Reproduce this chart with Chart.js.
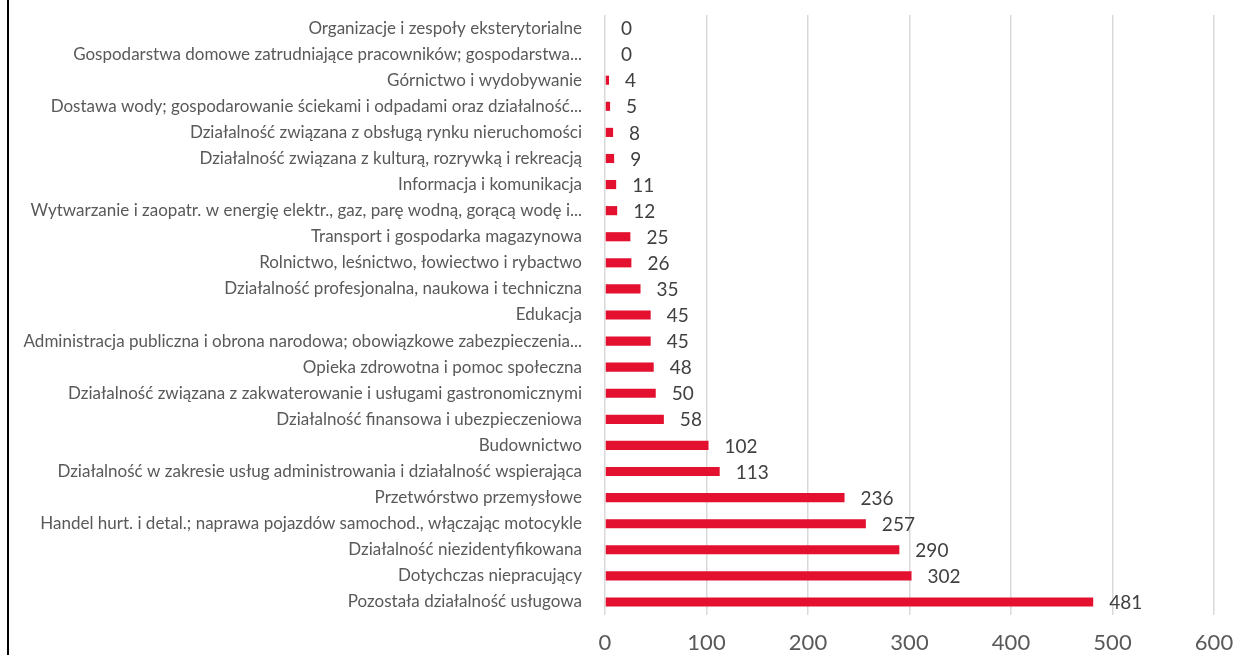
<!DOCTYPE html>
<html lang="pl">
<head>
<meta charset="utf-8">
<title>Liczba bezrobotnych wg sekcji PKD</title>
<script src="https://cdn.jsdelivr.net/npm/chart.js@4.4.1/dist/chart.umd.min.js"></script>
<style>
  html, body { margin: 0; padding: 0; background: #ffffff; overflow: hidden; }
  #wrap { position: relative; width: 1235px; height: 655px; }
  #frame { position: absolute; left: 7px; top: 0; width: 2px; height: 655px; background: #000000; }
  canvas { position: absolute; left: 0; top: 0; }
</style>
</head>
<body>
<div id="wrap">
  <canvas id="chart" width="1235" height="655"></canvas>
  <div id="frame"></div>
</div>
<script>
  // Sekcje PKD, od góry do dołu jak na wykresie.
  const categories = [
    'Organizacje i zespoły eksterytorialne',
    'Gospodarstwa domowe zatrudniające pracowników; gospodarstwa...',
    'Górnictwo i wydobywanie',
    'Dostawa wody; gospodarowanie ściekami i odpadami oraz działalność...',
    'Działalność związana z obsługą rynku nieruchomości',
    'Działalność związana z kulturą, rozrywką i rekreacją',
    'Informacja i komunikacja',
    'Wytwarzanie i zaopatr. w energię elektr., gaz, parę wodną, gorącą wodę i...',
    'Transport i gospodarka magazynowa',
    'Rolnictwo, leśnictwo, łowiectwo i rybactwo',
    'Działalność profesjonalna, naukowa i techniczna',
    'Edukacja',
    'Administracja publiczna i obrona narodowa; obowiązkowe zabezpieczenia...',
    'Opieka zdrowotna i pomoc społeczna',
    'Działalność związana z zakwaterowanie i usługami gastronomicznymi',
    'Działalność finansowa i ubezpieczeniowa',
    'Budownictwo',
    'Działalność w zakresie usług administrowania i działalność wspierająca',
    'Przetwórstwo przemysłowe',
    'Handel hurt. i detal.; naprawa pojazdów samochod., włączając motocykle',
    'Działalność niezidentyfikowana',
    'Dotychczas niepracujący',
    'Pozostała działalność usługowa'
  ];

  const values = [0, 0, 4, 5, 8, 9, 11, 12, 25, 26, 35, 45, 45, 48, 50, 58, 102, 113, 236, 257, 290, 302, 481];

  const xTicks = [0, 100, 200, 300, 400, 500, 600];

  const BAR = '#e3102f';
  const TEXT = '#595959';
  const LABEL = '#404040';
  const GRID = '#d9d9d9';
  const FONT = 'Lato, "Open Sans", sans-serif';

  // Wartości przy końcach słupków (zamiast pluginu datalabels).
  const valueLabels = {
    id: 'valueLabels',
    afterDatasetsDraw(chart) {
      const ctx = chart.ctx;
      const meta = chart.getDatasetMeta(0);
      ctx.save();
      ctx.font = '19px ' + FONT;
      ctx.fillStyle = LABEL;
      ctx.textAlign = 'left';
      ctx.textBaseline = 'middle';
      meta.data.forEach((bar, i) => {
        ctx.fillText(String(values[i]), bar.x + 16, bar.y + 1);
      });
      ctx.restore();
    }
  };

  // Chart.js rezerwuje miejsce na wystające etykiety osi — tu niepotrzebne.
  function noEdgePadding(scale) {
    scale.paddingLeft = 0;
    scale.paddingRight = 0;
    scale.paddingTop = 0;
    scale.paddingBottom = 0;
  }

  new Chart(document.getElementById('chart'), {
    type: 'bar',
    data: {
      labels: categories,
      datasets: [{
        data: values,
        backgroundColor: BAR,
        borderWidth: 0,
        barPercentage: 0.7,
        categoryPercentage: 0.5
      }]
    },
    options: {
      indexAxis: 'y',
      responsive: false,
      animation: false,
      layout: { padding: { top: 15, right: 21, left: 0, bottom: 0 } },
      plugins: {
        legend: { display: false },
        tooltip: { enabled: false }
      },
      scales: {
        x: {
          min: xTicks[0],
          max: xTicks[xTicks.length - 1],
          afterBuildTicks: (scale) => { scale.ticks = xTicks.map((v) => ({ value: v })); },
          afterFit: (scale) => { scale.height = 40; noEdgePadding(scale); },
          grid: { color: GRID, lineWidth: 1.5, drawTicks: false },
          border: { display: false },
          ticks: {
            padding: 15,
            color: TEXT,
            font: { family: FONT, size: 22 }
          }
        },
        y: {
          afterFit: (scale) => { scale.width = 605; noEdgePadding(scale); },
          grid: { display: false },
          border: { display: false },
          ticks: {
            padding: 15,
            autoSkip: false,
            color: TEXT,
            font: { family: FONT, size: 17 }
          }
        }
      }
    },
    plugins: [valueLabels]
  });
</script>
</body>
</html>
